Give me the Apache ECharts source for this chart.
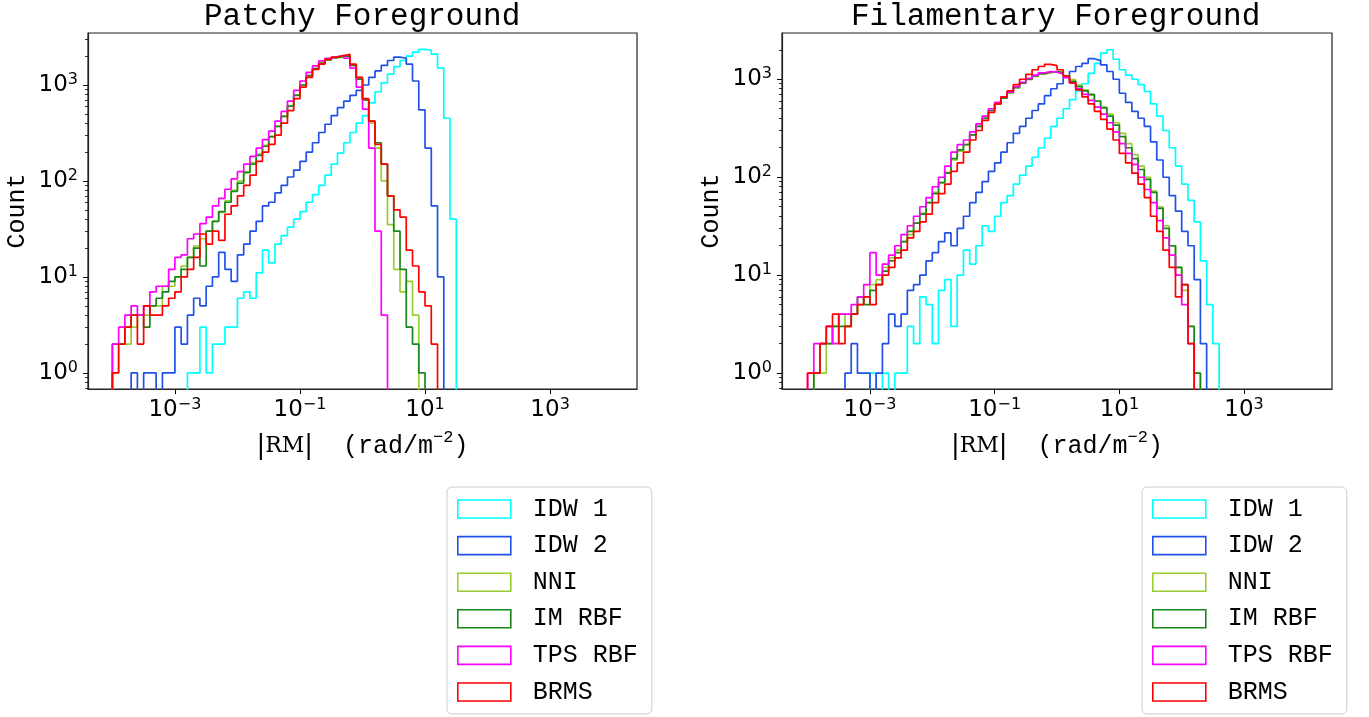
<!DOCTYPE html>
<html><head><meta charset="utf-8">
<script src="https://cdn.jsdelivr.net/npm/echarts@6/dist/echarts.min.js"></script>
<style>html,body{margin:0;padding:0;background:#fff}#c{width:1369px;height:717px}</style>
</head><body><div id="c"></div>
<script>
// ---- data ----
const BIN_LOG_START = -4.0;   // first bin edge = 10^-4
const BIN_LOG_STEP = 0.1;     // bin width in decades
const seriesNames = ['IDW 1', 'IDW 2', 'NNI', 'IM RBF', 'TPS RBF', 'BRMS'];
const seriesColors = ['#00ffff', '#1f51e8', '#9acd32', '#1a871a', '#ff00ff', '#ff0000'];
const panelTitles = ['Patchy Foreground', 'Filamentary Foreground'];
const xTickValues = [1e-3, 1e-1, 1e1, 1e3];
const yTickValues = [1, 10, 100, 1000];
const yMinorTickValues = [0.7, 0.8, 0.9, 2, 3, 4, 5, 6, 7, 8, 9, 20, 30, 40, 50, 60, 70, 80, 90,
  200, 300, 400, 500, 600, 700, 800, 900, 2000, 3000];

// Patchy foreground counts per bin (bins start at 10^-4, 0.1 decade wide)
const patchyIDW1 = [0,0,0,0,0,0,0,0,0,0, 0,0,1,1,3,1,2,2,3,3,
  6,7,6,11,19,14,22,27,33,40, 48,60,72,90,115,150,195,250,320,400,
  480,650,850,1050,1300,1550,1800,2000,2200,2350, 2300,2100,1500,450,40,0];
const patchyIDW2 = [0,0,0,1,0,1,1,0,1,1, 3,2,4,6,5,8,10,18,12,9,
  17,22,30,38,55,60,75,90,110,130, 160,200,250,320,390,480,580,680,780,880,
  1000,1200,1400,1600,1800,1950,1900,1650,1100,550, 220,55,10,0];
const patchyNNI = [1,2,2,3,4,4,5,5,8,8, 10,13,16,21,25,30,38,47,62,80,
  100,125,155,190,235,290,370,470,610,790, 1000,1250,1480,1700,1840,1940,1990,2000,1600,1150,
  700,400,220,100,35,12,7,9,4,0];
const patchyIMRBF = [2,2,3,4,4,3,5,6,7,9, 10,12,16,20,13,30,38,48,60,78,
  95,122,150,185,230,290,370,470,600,780, 1000,1250,1480,1680,1820,1920,1980,2000,1600,1150,
  700,420,250,150,70,30,12,3,2,1,0];
const patchyTPSRBF = [2,3,4,5,4,5,7,8,8,12, 16,17,25,28,36,42,55,66,82,105,
  125,150,180,220,270,330,420,530,680,880, 1100,1350,1580,1780,1900,1980,2020,1900,1500,950,
  560,220,30,4,0];
const patchyBRMS = [1,2,3,4,2,5,4,4,5,6, 7,10,12,16,28,22,30,24,45,55,
  70,90,115,160,200,240,300,400,540,720, 950,1200,1450,1650,1850,1950,2030,2080,1650,1200,
  720,420,240,150,70,50,42,19,13,7, 5,2,0];

// Filamentary foreground counts per bin
const filIDW1 = [0,0,0,0,0,0,0,0,0,0, 1,0,1,0,1,1,3,2,6,5,
  2,7,9,3,10,18,13,20,32,28, 40,55,65,85,105,130,160,200,250,330,
  400,500,620,760,900,1150,1450,1850,2000,1600, 1250,1100,1000,880,750,560,420,300,200,130,
  85,58,35,14,5,2,0];
const filIDW2 = [0,0,0,0,0,0,1,2,1,1, 0,1,2,4,3,4,7,8,10,14,
  17,22,27,20,30,40,55,70,90,115, 140,180,225,280,330,400,480,560,680,800,
  900,1050,1200,1350,1450,1620,1550,1400,1200,1000, 720,580,470,400,330,230,150,100,65,45,
  28,20,9,2,0];
const filNNI = [0,1,1,2,3,4,3,4,5,6, 8,9,12,15,18,22,26,34,43,55,
  70,88,112,150,185,215,270,330,400,480, 560,640,730,820,910,990,1070,1130,1170,1190,
  1170,1090,990,870,780,690,600,520,440,360, 280,220,170,130,100,72,50,32,20,12,
  7,3,1,0];
const filIMRBF = [0,1,2,2,3,3,3,4,6,5, 7,8,11,14,17,22,28,34,42,55,
  68,88,110,155,190,215,270,330,400,480, 560,640,730,820,910,1000,1080,1140,1180,1200,
  1170,1080,950,840,760,700,600,510,420,340, 260,200,155,120,95,70,48,30,20,12,
  8,3,1,0];
const filTPSRBF = [1,2,2,3,2,4,4,5,6,8, 17,10,13,16,20,26,32,40,50,62,
  80,100,130,180,215,240,290,350,420,500, 580,660,740,840,930,1020,1100,1160,1200,1180,
  1130,1040,920,800,700,610,520,440,360,290, 220,175,135,100,75,55,36,24,16,10,
  5,2,0];
const filBRMS = [1,1,2,3,4,2,3,4,5,6, 5,8,10,12,15,18,24,28,35,42,
  55,68,85,115,140,180,240,300,380,460, 560,660,760,880,1000,1120,1250,1350,1420,1380,
  1250,1080,920,780,660,560,470,390,310,240, 175,140,110,85,62,40,28,18,12,6,
  8,2,0];

const panelCounts = [
  [patchyIDW1, patchyIDW2, patchyNNI, patchyIMRBF, patchyTPSRBF, patchyBRMS],
  [filIDW1, filIDW2, filNNI, filIMRBF, filTPSRBF, filBRMS]
];

// ---- layout / style ----
const layouts = [
  {grid: {left: 88, top: 33, width: 549, height: 356}, xLog: 4.39, yMin: 0.68, yMax: 3480, titleLeft: 204, legendLeft: 447},
  {grid: {left: 782, top: 33, width: 550, height: 356}, xLog: 4.41, yMin: 0.69, yMax: 2965, titleLeft: 851, legendLeft: 1142}
];
const MONO = 'Liberation Mono';
const SANS = 'DejaVu Sans';
const FLOOR = 1e-3; // empty bins drawn below the axis (clipped), like a step histogram

const edge = i => Math.pow(10, BIN_LOG_START + i * BIN_LOG_STEP);
function stepPoints(counts) {
  const pts = [[edge(0), FLOOR]];
  counts.forEach((c, i) => pts.push([edge(i), c > 0 ? c : FLOOR]));
  pts.push([edge(counts.length), FLOOR]);
  return pts;
}
function powLabel(v) {
  const e = Math.round(Math.log10(v));
  return '{b|10}{s|' + (e < 0 ? '\u2212' : '') + Math.abs(e) + '}';
}
const tickRich = {
  b: {fontFamily: SANS, fontSize: 23, lineHeight: 27, color: '#000'},
  s: {fontFamily: SANS, fontSize: 16, lineHeight: 18, verticalAlign: 'top', color: '#000'}
};

const option = {
  animation: false,
  backgroundColor: '#fff',
  title: [], grid: [], xAxis: [], yAxis: [], legend: [], series: []
};

layouts.forEach((L, p) => {
  option.title.push({
    text: panelTitles[p], left: L.titleLeft, top: 1, padding: 0,
    textStyle: {fontFamily: MONO, fontSize: 31, fontWeight: 'normal', color: '#000'}
  });
  option.grid.push(Object.assign({
    show: true, borderColor: '#222', borderWidth: 1.2, backgroundColor: 'transparent',
    containLabel: false, outerBoundsMode: 'none'
  }, L.grid));
  option.xAxis.push({
    type: 'log', logBase: 10, gridIndex: p,
    min: Math.pow(10, -L.xLog), max: Math.pow(10, L.xLog),
    axisLine: {show: true, onZero: false, lineStyle: {color: '#222', width: 1.2}},
    axisTick: {show: true, customValues: xTickValues, length: 5, lineStyle: {color: '#000', width: 1}},
    axisLabel: {show: true, customValues: xTickValues, formatter: powLabel, rich: tickRich, margin: 8},
    splitLine: {show: false}, minorTick: {show: false}, minorSplitLine: {show: false},
    name: '{bar||}{rm|RM}{bar||}  (rad/m{sup|\u22122})',
    nameLocation: 'middle', nameGap: 40,
    nameTextStyle: {
      fontFamily: MONO, fontSize: 25, lineHeight: 34, color: '#000',
      rich: {
        bar: {fontFamily: SANS, fontSize: 26, lineHeight: 34, color: '#000'},
        rm: {fontFamily: 'DejaVu Serif', fontSize: 22, lineHeight: 34, color: '#000'},
        sup: {fontFamily: MONO, fontSize: 17, lineHeight: 20, verticalAlign: 'top', color: '#000'}
      }
    }
  });
  // major y axis with labels
  option.yAxis.push({
    type: 'log', logBase: 10, gridIndex: p, position: 'left',
    min: L.yMin, max: L.yMax,
    axisLine: {show: true, onZero: false, lineStyle: {color: '#222', width: 1.2}},
    axisTick: {show: true, customValues: yTickValues, length: 5, lineStyle: {color: '#000', width: 1}},
    axisLabel: {show: true, customValues: yTickValues, formatter: powLabel, rich: tickRich, margin: 10},
    splitLine: {show: false}, minorTick: {show: false},
    name: 'Count', nameLocation: 'middle', nameGap: 58,
    nameTextStyle: {fontFamily: MONO, fontSize: 25, color: '#000'}
  });
  // minor ticks axis (same scale), moved onto the left edge
  option.yAxis.push({
    type: 'log', logBase: 10, gridIndex: p, position: 'right', offset: -L.grid.width,
    min: L.yMin, max: L.yMax,
    axisLine: {show: false},
    axisTick: {show: true, inside: true, customValues: yMinorTickValues, length: 3, lineStyle: {color: '#000', width: 0.8}},
    axisLabel: {show: false},
    splitLine: {show: false}, minorTick: {show: false}
  });
  option.legend.push({
    orient: 'vertical', left: L.legendLeft, top: 487,
    padding: [9, 14, 9, 10], itemGap: 10.6, itemWidth: 53, itemHeight: 18,
    backgroundColor: '#fff', borderColor: '#cccccc', borderWidth: 1, borderRadius: 5,
    icon: 'rect', selectedMode: false,
    textStyle: {fontFamily: MONO, fontSize: 25, lineHeight: 26, color: '#000', padding: [0, 0, 0, 17]},
    data: seriesNames.map((n, k) => ({
      name: n, icon: 'rect',
      itemStyle: {color: 'rgba(255,255,255,0)', borderColor: seriesColors[k], borderWidth: 1.6}
    }))
  });
  panelCounts[p].forEach((counts, k) => {
    option.series.push({
      type: 'line', name: seriesNames[k], xAxisIndex: p, yAxisIndex: p * 2,
      data: stepPoints(counts), step: 'end', showSymbol: false, symbol: 'none',
      clip: true, silent: true, z: 2 + k,
      lineStyle: {color: seriesColors[k], width: 1.7},
      itemStyle: {color: seriesColors[k]}
    });
  });
});

const chart = echarts.init(document.getElementById('c'), null, {renderer: 'canvas', width: 1369, height: 717});
chart.setOption(option);
</script>
</body></html>
